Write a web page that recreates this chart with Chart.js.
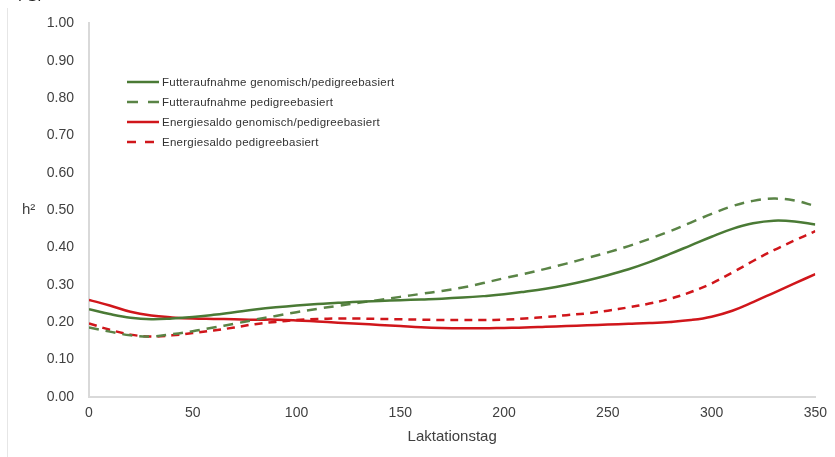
<!DOCTYPE html>
<html>
<head>
<meta charset="utf-8">
<script src="https://cdn.jsdelivr.net/npm/chart.js@4/dist/chart.umd.min.js"></script>
<style>
  html, body { margin: 0; padding: 0; background: #fff; }
  #wrap { position: relative; width: 835px; height: 457px; overflow: hidden; font-family: "Liberation Sans", Arial, sans-serif; }
  #frame { position: absolute; left: 7px; top: 8px; bottom: 0; border-left: 1px solid #e6e6e6; }
  #cut { position: absolute; left: 18px; top: -13px; font-size: 15px; color: #222; }
  #ylab { position: absolute; left: 22px; top: 200px; font-size: 15px; color: #404040; }
  #legend { position: absolute; left: 127px; top: 72px; font-size: 11.5px; color: #333; letter-spacing: 0.25px; }
  .row { height: 20px; display: flex; align-items: center; }
  .row svg { width: 33px; height: 6px; margin-right: 2px; }
</style>
</head>
<body>
<div id="wrap">
  <div id="frame"></div>
  <div id="cut">FS.</div>
  <canvas id="c" width="835" height="457"></canvas>
  <div id="ylab">h²</div>
  <div id="legend"></div>
</div>
<script>
// Laktationstag (x values)
const days = [0,10,20,30,40,50,60,70,80,90,100,110,120,130,140,150,160,170,180,190,200,210,220,230,240,250,260,270,280,290,300,310,320,330,340,350];

// heritabilities
const futterGenomic = [0.235,0.222,0.212,0.208,0.210,0.214,0.220,0.227,0.234,0.240,0.245,0.249,0.252,0.255,0.257,0.259,0.261,0.263,0.266,0.270,0.275,0.282,0.290,0.300,0.312,0.326,0.342,0.361,0.383,0.406,0.429,0.450,0.465,0.472,0.470,0.462];
const futterPedigree = [0.186,0.175,0.165,0.162,0.168,0.176,0.186,0.196,0.207,0.217,0.227,0.236,0.244,0.252,0.260,0.268,0.276,0.284,0.293,0.305,0.318,0.330,0.343,0.357,0.372,0.387,0.404,0.423,0.444,0.467,0.490,0.511,0.525,0.531,0.526,0.511];
const energieGenomic = [0.260,0.245,0.228,0.218,0.213,0.210,0.209,0.208,0.207,0.207,0.205,0.202,0.199,0.196,0.193,0.190,0.187,0.185,0.184,0.184,0.185,0.186,0.188,0.190,0.192,0.194,0.196,0.198,0.201,0.206,0.215,0.231,0.254,0.279,0.304,0.329];
const energiePedigree = [0.197,0.180,0.167,0.162,0.165,0.171,0.178,0.186,0.195,0.201,0.206,0.209,0.210,0.210,0.209,0.208,0.207,0.206,0.206,0.206,0.207,0.210,0.214,0.219,0.224,0.231,0.240,0.250,0.263,0.281,0.304,0.333,0.364,0.393,0.419,0.444];

const seriesLabels = [
  'Futteraufnahme genomisch/pedigreebasiert',
  'Futteraufnahme pedigreebasiert',
  'Energiesaldo genomisch/pedigreebasiert',
  'Energiesaldo pedigreebasiert'
];

const GREEN = '#4a7a35';
const GREEN_D = '#5a8446';
const RED = '#d0161b';

function toPoints(vals) {
  return vals.map((v, i) => ({ x: days[i], y: v }));
}

const styles = [
  { color: GREEN, dash: [] },
  { color: GREEN_D, dash: [10, 7] },
  { color: RED, dash: [] },
  { color: RED, dash: [8, 6] }
];
const allData = [futterGenomic, futterPedigree, energieGenomic, energiePedigree];

new Chart(document.getElementById('c'), {
  type: 'line',
  data: {
    datasets: allData.map((vals, i) => ({
      label: seriesLabels[i],
      data: toPoints(vals),
      borderColor: styles[i].color,
      borderDash: styles[i].dash,
      borderWidth: 2.5,
      pointRadius: 0,
      tension: 0.4,
      fill: false
    }))
  },
  options: {
    responsive: false,
    animation: false,
    layout: { padding: { left: 0, right: 15, top: 23, bottom: 11 } },
    plugins: { legend: { display: false }, tooltip: { enabled: false } },
    scales: {
      x: {
        type: 'linear',
        min: 0, max: 350,
        grid: { display: false, drawTicks: false },
        border: { display: true, color: '#d9d9d9', width: 2 },
        ticks: { stepSize: 50, padding: 8, color: '#404040', font: { family: 'Liberation Sans', size: 14 } },
        title: { display: true, text: 'Laktationstag', color: '#404040', font: { family: 'Liberation Sans', size: 15 }, padding: 0 },
        afterFit: s => { s.height = 49; }
      },
      y: {
        min: 0, max: 1,
        grid: { display: false, drawTicks: false },
        border: { display: true, color: '#d9d9d9', width: 2 },
        ticks: { stepSize: 0.1, padding: 15, color: '#404040', font: { family: 'Liberation Sans', size: 14 },
                 callback: v => v.toFixed(2) },
        afterFit: s => { s.width = 89; }
      }
    }
  }
});

// legend in the plot area
const legend = document.getElementById('legend');
seriesLabels.forEach((lab, i) => {
  const row = document.createElement('div');
  row.className = 'row';
  const dash = styles[i].dash.length ? `stroke-dasharray="${styles[i].dash[0] + 1} ${styles[i].dash[1] + 3}"` : '';
  row.innerHTML = `<svg><line x1="0" y1="3" x2="32" y2="3" stroke="${styles[i].color}" stroke-width="2.5" ${dash}/></svg><span>${lab}</span>`;
  legend.appendChild(row);
});
</script>
</body>
</html>
